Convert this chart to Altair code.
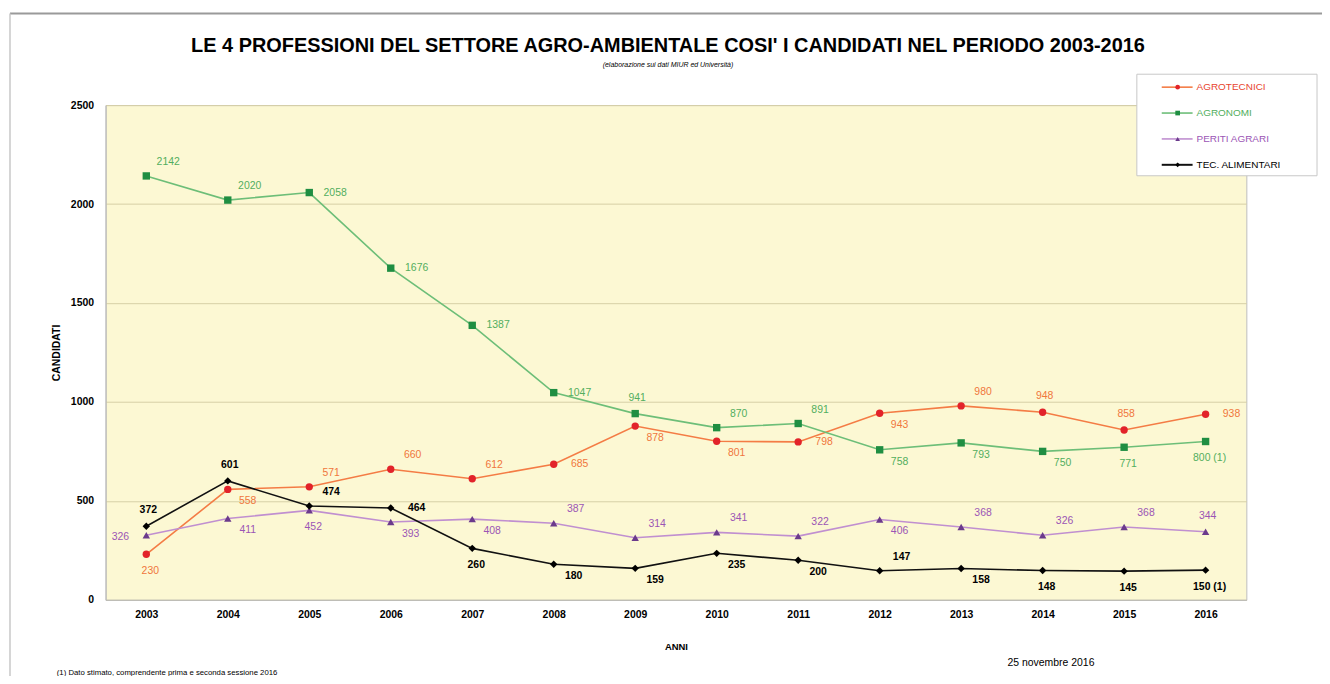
import altair as alt
import pandas as pd

# ---------------- data ----------------
anni = list(range(2003, 2017))
serie = ["AGROTECNICI", "AGRONOMI", "PERITI AGRARI", "TEC. ALIMENTARI"]

agrotecnici = [230, 558, 571, 660, 612, 685, 878, 801, 798, 943, 980, 948, 858, 938]
agronomi = [2142, 2020, 2058, 1676, 1387, 1047, 941, 870, 891, 758, 793, 750, 771, 800]
periti_agrari = [326, 411, 452, 393, 408, 387, 314, 341, 322, 406, 368, 326, 368, 344]
tec_alimentari = [372, 601, 474, 464, 260, 180, 159, 235, 200, 147, 158, 148, 145, 150]

# "(1)" = dato stimato
note_agrotecnici = [""] * 13 + [""]
note_agronomi = [""] * 13 + [" (1)"]
note_periti = [""] * 13 + [""]
note_tec = [""] * 13 + [" (1)"]

# label placement codes (annotation layout, not data)
pos_agrotecnici = ["B", "LR", "UR", "UR", "UR", "R", "LR", "LR", "R", "LR", "UR", "A", "A", "R"]
pos_agronomi = ["UR", "UR", "R", "R", "R", "R", "A", "UR", "UR", "LR", "LR", "LR", "B", "B"]
pos_periti = ["L", "LR", "B", "LR", "LR", "UR", "UR", "UR", "UR", "LR", "UR", "UR", "UR", "A"]
pos_tec = ["A", "A", "UR", "R", "B", "LR", "LR", "LR", "LR", "UR", "LR", "B", "B", "B"]

titolo = "LE 4  PROFESSIONI DEL SETTORE AGRO-AMBIENTALE COSI' I CANDIDATI NEL PERIODO 2003-2016"
sottotitolo = "(elaborazione sui dati MIUR ed Università)"
nota_piede = "(1) Dato stimato, comprendente prima e seconda sessione 2016"
data_piede = "25 novembre 2016"

# ---------------- styles ----------------
FONT = "Liberation Sans"
line_colors = ["#F47C45", "#6DBE78", "#C08FD0", "#111111"]
marker_colors = ["#E2232A", "#1F8E42", "#6B3A8C", "#000000"]
label_colors = ["#F0763C", "#52AE5E", "#9B55B5", "#000000"]
legend_text_colors = ["#E8452F", "#52AE5E", "#9B55B5", "#000000"]
shapes = ["circle", "square", "triangle-up", "diamond"]
BG = "#FCF8D3"

rows = []
for s, vals, notes, poss in zip(
    serie,
    [agrotecnici, agronomi, periti_agrari, tec_alimentari],
    [note_agrotecnici, note_agronomi, note_periti, note_tec],
    [pos_agrotecnici, pos_agronomi, pos_periti, pos_tec],
):
    for a, v, n, p in zip(anni, vals, notes, poss):
        rows.append({"anno": a, "serie": s, "valore": v, "etichetta": f"{v}{n}", "pos": p})
df = pd.DataFrame(rows)

W, H = 1146, 497

x_enc = alt.X("anno:O", scale=alt.Scale(type="point", padding=0.5),
              axis=alt.Axis(title="ANNI", labelAngle=0, ticks=False, labelPadding=10,
                            titlePadding=21, titleFontSize=9.5, domainColor="#B8B8B8"))
y_enc = alt.Y("valore:Q", scale=alt.Scale(domain=[0, 2500], nice=False),
              axis=alt.Axis(title="CANDIDATI", values=[0, 500, 1000, 1500, 2000, 2500], format="d",
                            ticks=False, labelPadding=12, grid=True, gridColor="#D6D0A6",
                            titleFontSize=10.5,
                            domainColor="#B8B8B8", titleX=-44, titleY=H / 2))

base = alt.Chart(df)

lines = base.mark_line(strokeWidth=1.6).encode(
    x=x_enc, y=y_enc,
    stroke=alt.Stroke("serie:N", scale=alt.Scale(domain=serie, range=line_colors), legend=None),
    strokeWidth=alt.StrokeWidth("serie:N", scale=alt.Scale(domain=serie, range=[1.6, 1.6, 1.6, 2.2]), legend=None),
    detail="serie:N",
)

points = base.mark_point(filled=True, opacity=1).encode(
    x="anno:O", y="valore:Q",
    fill=alt.Fill("serie:N", scale=alt.Scale(domain=serie, range=marker_colors), legend=None),
    shape=alt.Shape("serie:N", scale=alt.Scale(domain=serie, range=shapes), legend=None),
    size=alt.Size("serie:N", scale=alt.Scale(domain=serie, range=[55, 55, 55, 50]), legend=None),
)

offsets = {
    "R": dict(dx=26, dy=0),
    "UR": dict(dx=22, dy=-14),
    "LR": dict(dx=20, dy=12),
    "A": dict(dx=2, dy=-16),
    "B": dict(dx=4, dy=17),
    "L": dict(dx=-26, dy=2),
}
label_layers = []
for code, off in offsets.items():
    for weight, sel in [("normal", "datum.serie != 'TEC. ALIMENTARI'"), ("bold", "datum.serie == 'TEC. ALIMENTARI'")]:
        label_layers.append(
            base.transform_filter(f"datum.pos == '{code}' && {sel}").mark_text(
                font=FONT, fontSize=10.5, fontWeight=weight, align="center", baseline="middle", **off
            ).encode(
                x="anno:O", y="valore:Q", text="etichetta:N",
                color=alt.Color("serie:N", scale=alt.Scale(domain=serie, range=label_colors), legend=None),
            )
        )

# outer frame
frame_top = alt.Chart(pd.DataFrame({"k": [0]})).mark_rule(color="#9A9A9A", strokeWidth=2).encode(
    x=alt.value(-96), x2=alt.value(1230), y=alt.value(-92))
frame_left = alt.Chart(pd.DataFrame({"k": [0]})).mark_rule(color="#C8C8C8", strokeWidth=1.5).encode(
    x=alt.value(-96), y=alt.value(-92), y2=alt.value(590))

# titles / footers
def txt(t, x, y, size, weight="normal", style="normal", align="center", color="#000"):
    return alt.Chart(pd.DataFrame({"t": [t]})).mark_text(
        font=FONT, fontSize=size, fontWeight=weight, fontStyle=style, align=align,
        baseline="middle", color=color
    ).encode(text="t:N", x=alt.value(x), y=alt.value(y))

t1 = txt(titolo, 565, -59, 20, weight="bold")
t2 = txt(sottotitolo, 565, -40, 7, style="italic")
f1 = txt(nota_piede, -49, 74 + 497, 7.8, align="left")
f2 = txt(data_piede, 906, 63 + 497, 10.5, align="left")

# legend box
leg_box = alt.Chart(pd.DataFrame({"k": [0]})).mark_rect(
    fill="white", stroke="#C8C8C8", strokeWidth=1).encode(
    x=alt.value(1036), x2=alt.value(1217), y=alt.value(-31), y2=alt.value(71))
leg_layers = [leg_box]
for i, s in enumerate(serie):
    ly = -18 + 26 * i
    one = pd.DataFrame({"serie": [s]})
    leg_layers.append(alt.Chart(one).mark_rule(color=line_colors[i], strokeWidth=1.6 if i < 3 else 2).encode(
        x=alt.value(1061), x2=alt.value(1092), y=alt.value(ly)))
    leg_layers.append(alt.Chart(one).mark_point(filled=True, opacity=1, shape=shapes[i], size=22,
                                                color=marker_colors[i]).encode(
        x=alt.value(1077), y=alt.value(ly)))
    leg_layers.append(alt.Chart(one).mark_text(font=FONT, fontSize=10, align="left", baseline="middle",
                                               color=legend_text_colors[i]).encode(
        text="serie:N", x=alt.value(1096), y=alt.value(ly)))

chart = alt.layer(
    frame_top, frame_left, lines, points, *label_layers, t1, t2, f1, f2, *leg_layers
).resolve_scale(
    stroke="independent", fill="independent", color="independent", shape="independent", size="independent"
).properties(
    width=W, height=H,
    background="white",
    autosize=alt.AutoSizeParams(type="none"),
    padding={"left": 98, "top": 96, "right": 76, "bottom": 75},
).configure_view(
    fill=BG, stroke="#BDBDBD", strokeWidth=1
).configure_axis(
    labelFont=FONT, titleFont=FONT, labelFontSize=10.5,
    labelFontWeight="bold", titleFontWeight="bold", labelColor="#000", titleColor="#000"
)

chart.save("out.html", embed_options={"renderer": "svg", "actions": False})
